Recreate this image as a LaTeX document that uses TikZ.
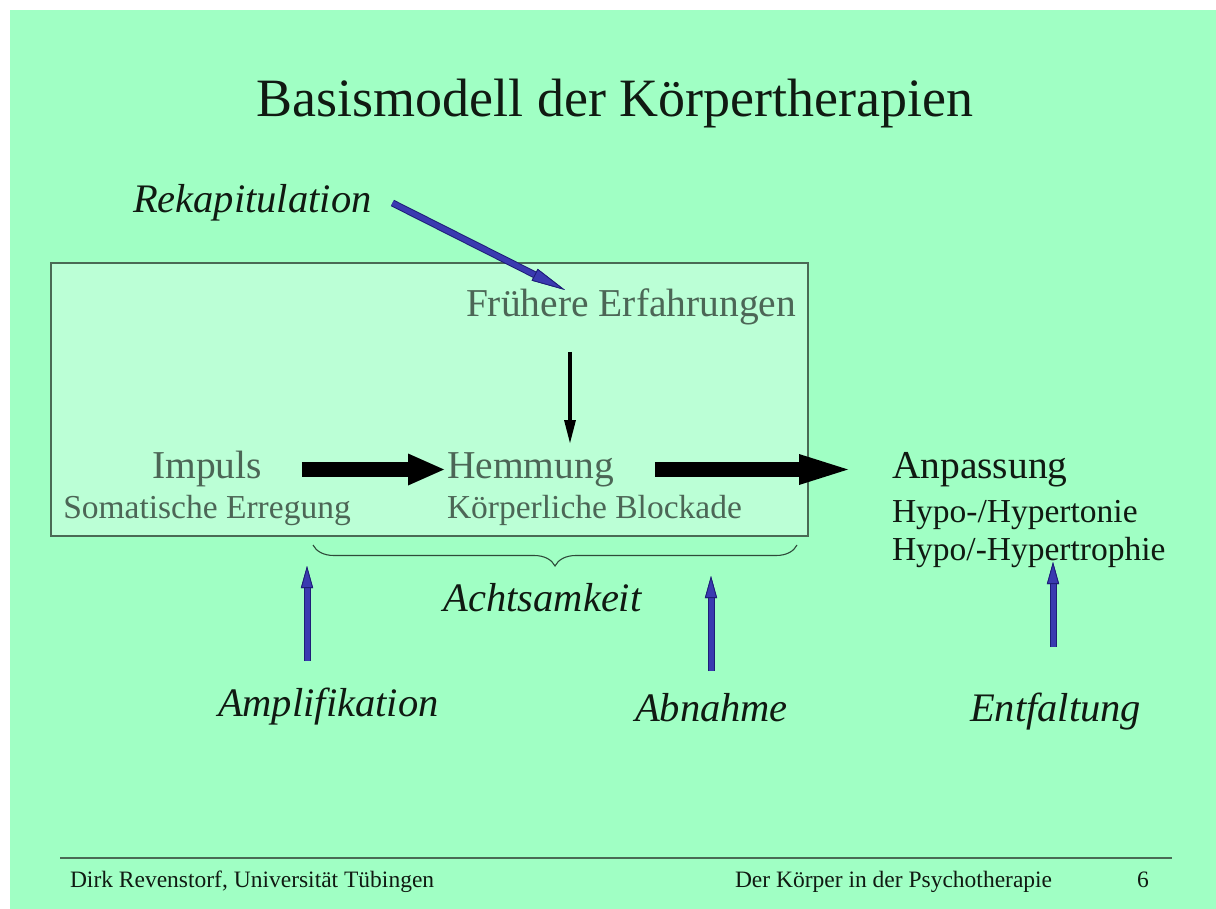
\documentclass[tikz,border=0pt]{standalone}
\usepackage{fontspec}
\setmainfont{Liberation Serif}
\usetikzlibrary{arrows.meta,decorations.pathreplacing,calc}
\definecolor{bggreen}{HTML}{A0FFC4}
\definecolor{boxfill}{HTML}{BBFFD6}
\definecolor{boxline}{HTML}{4A6A55}
\definecolor{boxtext}{HTML}{4C6656}
\definecolor{darktext}{HTML}{101A12}
\definecolor{arrowblue}{HTML}{3A3AB0}
\definecolor{arrowdark}{HTML}{1E1E78}
\definecolor{footrule}{HTML}{4A6A55}
\definecolor{bracecol}{HTML}{2E4A3A}
\begin{document}
\begin{tikzpicture}[x=1pt,y=-1pt,
  txt/.style={inner sep=0pt, outer sep=0pt},
  titlestyle/.style={txt, text=darktext, font=\fontsize{54}{60}\selectfont},
  boxhead/.style={txt, text=boxtext, font=\fontsize{39.5}{44}\selectfont},
  boxsub/.style={txt, text=boxtext, font=\fontsize{33.5}{38}\selectfont},
  outhead/.style={txt, text=darktext, font=\fontsize{39.5}{44}\selectfont},
  outsub/.style={txt, text=darktext, font=\fontsize{33.5}{38}\selectfont},
  lbl/.style={txt, text=darktext, font=\itshape\fontsize{40.5}{45}\selectfont},
  foot/.style={txt, text=darktext, font=\fontsize{23.5}{26}\selectfont},
  bigarrow/.style={black, line width=15pt},
  thinarrow/.style={black, line width=4.5pt, -{Triangle[length=23pt,width=12pt,line width=0pt]}},
  bluearrow/.style={arrowblue, line width=5pt,
     preaction={draw=arrowdark, line width=7pt},
     -{Triangle[length=22pt,width=12pt,line width=0.8pt,fill=arrowblue,color=arrowdark]}},
  bracestyle/.style={draw=bracecol, line width=1.1pt},
  footline/.style={draw=footrule, line width=2.5pt}
]
\useasboundingbox (0,0) rectangle (1216,909);
\fill[white] (0,0) rectangle (1216,909);
\fill[bggreen] (10,10) rectangle (1216,909);

% frame
\node[draw=boxline, fill=boxfill, line width=1.2pt, minimum width=757pt, minimum height=273pt, inner sep=0pt] (box) at (429.5,399.5) {};

% texts
\node[titlestyle, anchor=base] (title) at (615,117) {Basismodell der Körpertherapien};
\node[lbl, anchor=base west] (rekap) at (133,213) {Rekapitulation};
\node[boxhead, anchor=base west] (frueh) at (466,317) {Frühere Erfahrungen};
\node[boxhead, anchor=base] (impuls) at (207,478) {Impuls};
\node[boxsub, anchor=base] (soma) at (207,518) {Somatische Erregung};
\node[boxhead, anchor=base west] (hemmung) at (447,478) {Hemmung};
\node[boxsub, anchor=base west] (koerper) at (447,518) {Körperliche Blockade};
\node[outhead, anchor=base west] (anpassung) at (892,478) {Anpassung};
\node[outsub, anchor=base west] (hyp1) at (892,522) {Hypo-/Hypertonie};
\node[outsub, anchor=base west] (hyp2) at (892,560) {Hypo/-Hypertrophie};
\node[lbl, anchor=base] (acht) at (542.5,611) {Achtsamkeit};
\node[lbl, anchor=base west] (ampl) at (218,716) {Amplifikation};
\node[lbl, anchor=base west] (abn) at (635,721) {Abnahme};
\node[lbl, anchor=base west] (entf) at (970,721) {Entfaltung};
\node[foot, anchor=base west] (autor) at (70,887) {Dirk Revenstorf, Universität Tübingen};
\node[foot, anchor=base west] (reihe) at (735,887) {Der Körper in der Psychotherapie};
\node[foot, anchor=base] (seite) at (1143,887) {6};

% black arrows
\draw[bigarrow, -{Triangle[length=36pt,width=32pt,line width=0pt]}]
  ([xshift=40pt,yshift=8.5pt]impuls.base east) -- ([xshift=-3pt,yshift=8.5pt]hemmung.base west);
\draw[bigarrow, -{Triangle[length=49pt,width=31pt,line width=0pt]}]
  ([xshift=41pt,yshift=8.5pt]hemmung.base east) -- ([xshift=-44pt,yshift=8.5pt]anpassung.base west);
\draw[thinarrow] ([xshift=104pt,yshift=-35pt]frueh.base west) -- ([xshift=123pt,yshift=35pt]hemmung.base west);

% blue arrows
\draw[bluearrow, -{Triangle[length=34pt,width=13pt,line width=0.8pt,fill=arrowblue,color=arrowdark]}]
  ([xshift=21pt,yshift=10pt]rekap.base east) -- ([xshift=99pt,yshift=27pt]frueh.base west);
\coordinate (ampltip) at (307,566);
\draw[bluearrow] ([xshift=89pt,yshift=55pt]ampl.base west) -- (ampltip);
\coordinate (abntip) at (711,576);
\draw[bluearrow] ([xshift=76pt,yshift=50pt]abn.base west) -- (abntip);
\draw[bluearrow] ([xshift=83pt,yshift=74pt]entf.base west) -- ([xshift=161pt,yshift=-2pt]hyp2.base west);

% brace
\coordinate (bl) at (313,545);
\coordinate (br) at (797,545);
\draw[bracestyle, decorate, decoration={brace, mirror, amplitude=21pt, aspect=0.5}] (bl) -- (br);

% footer rule
\coordinate (fl) at (60,858);
\coordinate (fr) at (1172,858);
\draw[footline] (fl) -- (fr);
\end{tikzpicture}
\end{document}
